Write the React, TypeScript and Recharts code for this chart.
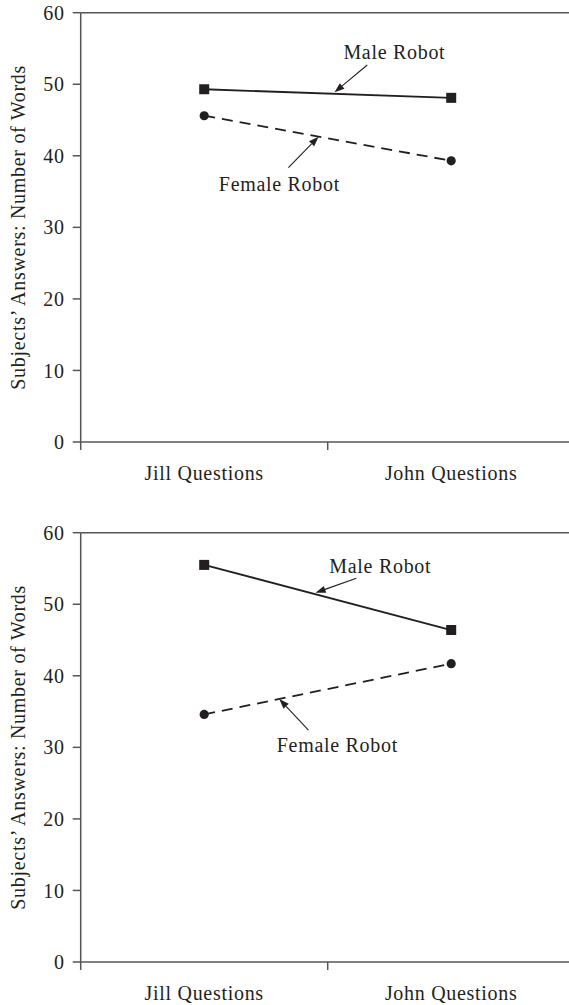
// Two stacked line charts: words per answer by question set, male vs female robot.
import { ComposedChart, Line, XAxis, YAxis, ReferenceLine, ReferenceDot } from "recharts";

const FONT = "'Liberation Serif', 'Times New Roman', serif";
const INK = "#231f20";
const AXIS = "#555557";
const TICK_SIZE = 8;
const X_TICK_MARGIN = 16;
const CHART_W = 580;
const CHART_H = 500;

const CATEGORIES = ["Jill Questions", "John Questions"];
const Y_TICKS = [0, 10, 20, 30, 40, 50, 60];
const Y_LABEL = "Subjects\u2019 Answers: Number of Words";

// panel 1
const MALE_TOP = [49.3, 48.1];
const FEMALE_TOP = [45.6, 39.3];
// panel 2
const MALE_BOTTOM = [55.5, 46.4];
const FEMALE_BOTTOM = [34.6, 41.7];

// annotation positions: x in category units (0..2), y in words
type Note = { text: string; tx: number; ty: number; x1: number; y1: number; x2: number; y2: number };
const NOTES_TOP: Note[] = [
  { text: "Male Robot", tx: 1.27, ty: 54.55, x1: 1.16, y1: 52.69, x2: 1.0275, y2: 48.87 },
  { text: "Female Robot", tx: 0.8045, ty: 36.1, x1: 0.841, y1: 38.34, x2: 0.963, y2: 42.67 },
];
const NOTES_BOTTOM: Note[] = [
  { text: "Male Robot", tx: 1.213, ty: 55.39, x1: 1.116, y1: 53.63, x2: 0.951, y2: 51.61 },
  { text: "Female Robot", tx: 1.039, ty: 30.33, x1: 0.922, y1: 32.42, x2: 0.804, y2: 36.76 },
];

const textStyle = { fontFamily: FONT, fontSize: 20, fill: INK, letterSpacing: 0.7 };

function CategoryTick(props: any) {
  const { x, y, payload, index, visibleTicksCount } = props;
  const half = payload.offset ?? 0;
  const axisY = y - TICK_SIZE - X_TICK_MARGIN;
  return (
    <g>
      <line x1={x - half} x2={x - half} y1={axisY} y2={axisY + TICK_SIZE} stroke={AXIS} strokeWidth={1.5} />
      {index === visibleTicksCount - 1 && (
        <line x1={x + half} x2={x + half} y1={axisY} y2={axisY + TICK_SIZE} stroke={AXIS} strokeWidth={1.5} />
      )}
      <text x={x} y={y} dy="0.71em" textAnchor="middle" style={textStyle}>
        {payload.value}
      </text>
    </g>
  );
}

function SquareDot(props: any) {
  const { cx, cy, index } = props;
  return <rect key={`sq-${index}`} x={cx - 5} y={cy - 5} width={10} height={10} fill={INK} />;
}

function RoundDot(props: any) {
  const { cx, cy, index } = props;
  return <circle key={`ci-${index}`} cx={cx} cy={cy} r={4.6} fill={INK} />;
}

function Arrow(props: any) {
  const { x1, y1, x2, y2 } = props;
  const a = Math.atan2(y2 - y1, x2 - x1);
  const len = 10;
  const w = 3.6;
  const bx = x2 - len * Math.cos(a);
  const by = y2 - len * Math.sin(a);
  const px = -Math.sin(a) * w;
  const py = Math.cos(a) * w;
  return (
    <g>
      <line x1={x1} y1={y1} x2={bx} y2={by} stroke={INK} strokeWidth={1.1} />
      <polygon points={`${x2},${y2} ${bx + px},${by + py} ${bx - px},${by - py}`} fill={INK} />
    </g>
  );
}

function YLabel(props: any) {
  const vb = props.viewBox;
  const cy = vb.y + vb.height / 2;
  const cx = 25;
  return (
    <text x={cx} y={cy} textAnchor="middle" transform={`rotate(-90, ${cx}, ${cy})`} style={textStyle}>
      {Y_LABEL}
    </text>
  );
}

function RobotChart({ male, female, notes }: { male: number[]; female: number[]; notes: Note[] }) {
  // pos = middle of each category band, on a 0..2 scale
  const data = CATEGORIES.map((c, i) => ({ category: c, pos: i + 0.5, male: male[i], female: female[i] }));
  return (
    <ComposedChart width={CHART_W} height={CHART_H} data={data} margin={{ top: 12.7, right: 5.3, bottom: 0, left: 0 }}>
      <XAxis
        xAxisId="cat"
        dataKey="category"
        type="category"
        scale="band"
        height={58}
        interval={0}
        tickLine={false}
        tickSize={TICK_SIZE}
        tickMargin={X_TICK_MARGIN}
        axisLine={{ stroke: AXIS, strokeWidth: 1.5 }}
        tick={<CategoryTick />}
      />
      <XAxis
        xAxisId="pos"
        dataKey="pos"
        type="number"
        domain={[0, 2]}
        ticks={[0, 1, 2]}
        allowDataOverflow
        hide
      />
      <YAxis
        domain={[0, 60]}
        ticks={Y_TICKS}
        width={80.7}
        tickSize={TICK_SIZE}
        tickMargin={8}
        axisLine={{ stroke: AXIS, strokeWidth: 1.5 }}
        tickLine={{ stroke: AXIS, strokeWidth: 1.5 }}
        tick={textStyle}
        label={{ content: <YLabel /> }}
      />
      <ReferenceLine xAxisId="pos" y={60} stroke={AXIS} strokeWidth={1.5} />

      <Line
        xAxisId="cat"
        dataKey="male"
        stroke={INK}
        strokeWidth={1.8}
        dot={SquareDot}
        activeDot={false}
        isAnimationActive={false}
      />
      <Line
        xAxisId="cat"
        dataKey="female"
        stroke={INK}
        strokeWidth={1.8}
        strokeDasharray="11 7"
        dot={RoundDot}
        activeDot={false}
        isAnimationActive={false}
      />

      {notes.map((n) => (
        <ReferenceLine
          key={`arrow-${n.text}`}
          xAxisId="pos"
          ifOverflow="visible"
          segment={[
            { x: n.x1, y: n.y1 },
            { x: n.x2, y: n.y2 },
          ]}
          shape={Arrow}
        />
      ))}
      {notes.map((n) => (
        <ReferenceDot
          key={`note-${n.text}`}
          xAxisId="pos"
          x={n.tx}
          y={n.ty}
          r={1}
          ifOverflow="visible"
          shape={(p: any) => (
            <text x={p.cx} y={p.cy} textAnchor="middle" dominantBaseline="central" style={textStyle}>
              {n.text}
            </text>
          )}
        />
      ))}
    </ComposedChart>
  );
}

export default function App() {
  return (
    <div
      style={{
        position: "absolute",
        left: 0,
        top: 0,
        width: 569,
        height: 1005,
        overflow: "hidden",
        background: "#fff",
      }}
    >
      <div style={{ position: "absolute", left: 0, top: 0 }}>
        <RobotChart male={MALE_TOP} female={FEMALE_TOP} notes={NOTES_TOP} />
      </div>
      <div style={{ position: "absolute", left: 0, top: 519.6 }}>
        <RobotChart male={MALE_BOTTOM} female={FEMALE_BOTTOM} notes={NOTES_BOTTOM} />
      </div>
    </div>
  );
}
